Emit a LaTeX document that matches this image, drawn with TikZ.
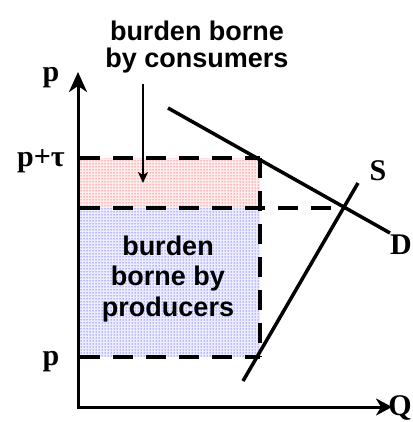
\documentclass[tikz,border=0pt]{standalone}
\usepackage{fontspec}
\setmainfont{Liberation Serif}
\setsansfont{Liberation Sans}
\usetikzlibrary{arrows.meta,positioning,patterns}

\begin{document}
\begin{tikzpicture}[
  x=1pt, y=-1pt,
  axis/.style={line width=3pt, {Stealth[length=20pt,width=18pt,inset=6pt]}-{Stealth[length=16pt,width=17pt,inset=5pt]}},
  curve/.style={line width=3.5pt},
  guide/.style={line width=3.2pt, dash pattern=on 20pt off 13pt},
  ptr/.style={line width=2pt, -{Stealth[length=11pt,width=10pt,inset=3pt]}},
  lbl/.style={font=\bfseries\fontsize{30}{32}\selectfont, inner sep=0pt},
  note/.style={font=\sffamily\bfseries\fontsize{27}{27}\selectfont, align=center, inner sep=0pt},
  cons/.style={fill=red!7, postaction={pattern=dots, pattern color=red}},
  prod/.style={fill=blue!7, postaction={pattern=dots, pattern color=blue}}
]
\clip (0,0) rectangle (412,422);

% axes
\coordinate (O) at (78,407);
\coordinate (ytop) at (78,72);
\coordinate (xend) at (392,407);

% price levels
\coordinate (hiL) at (80,158);
\coordinate (hiR) at (260,158);
\coordinate (midL) at (80,208);
\coordinate (loL) at (80,357);
\coordinate (loR) at (260,357);
\coordinate (E) at (345,208);

% curves
\coordinate (d1) at (168,108);
\coordinate (d2) at (390,233);
\coordinate (s1) at (243,381);
\coordinate (s2) at (358,183);

\fill[cons] (hiL) rectangle (loR |- midL);
\fill[prod] (midL) rectangle (loR);

\draw[guide] (hiL) -- (hiR);
\draw[guide] (midL) -- (E);
\draw[guide] (loL) -- (loR);
\draw[guide] (hiR) -- (loR);

\draw[axis] (ytop) -- (O) -- (xend);
\draw[curve] (d1) -- (d2);
\draw[curve] (s1) -- (s2);

\node[lbl] (p1) at (51,78) {p};
\node[lbl, anchor=east] (p2) at (65,161) {p+τ};
\node[lbl] (p0) at (51,362) {p};
\node[lbl] (S) at (378,171) {S};
\node[lbl] (D) at (401,245) {D};
\node[lbl] (Q) at (400,408) {Q};

\node[note] (hdr) at (197,47) {burden borne\\by consumers};
\node[note, font=\sffamily\bfseries\fontsize{27}{30.5}\selectfont] (box) at (168,279) {burden\\borne by\\producers};

\coordinate (ptrtop) at (143,84);
\coordinate (ptrend) at (143,183);
\draw[ptr] (ptrtop) -- (ptrend);
\end{tikzpicture}
\end{document}
